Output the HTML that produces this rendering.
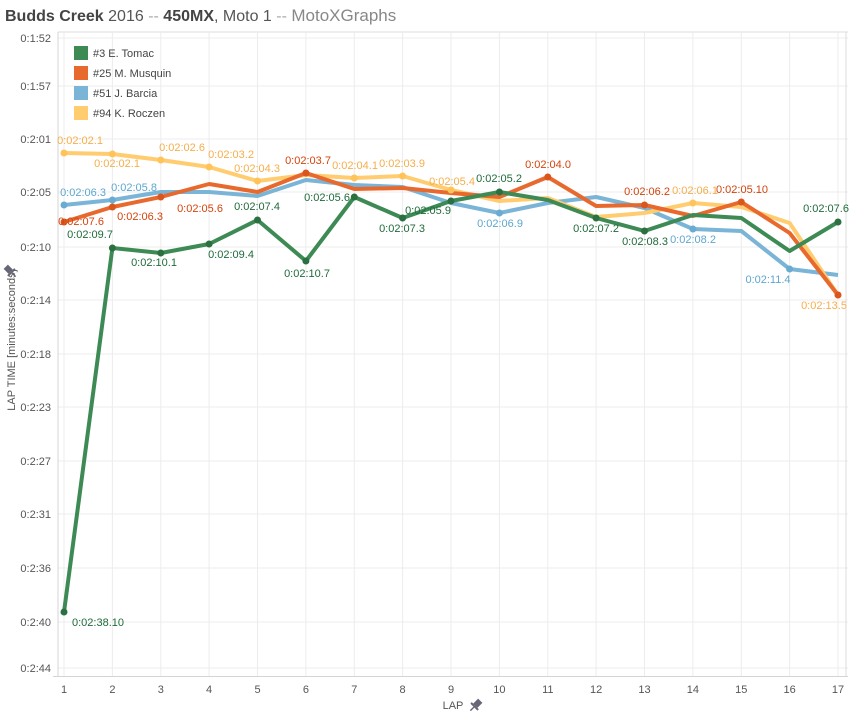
<!DOCTYPE html>
<html><head><meta charset="utf-8"><style>
body{margin:0;background:#fff;}
svg{display:block;font-family:"Liberation Sans",Arial,sans-serif;}
.g{stroke:#ececec;stroke-width:1}
.yl{font-size:11px;fill:#555;text-anchor:end}
.xl{font-size:11px;fill:#555;text-anchor:middle}
.lb{font-size:11px;text-anchor:middle}
</style></head><body>
<svg width="855" height="711" viewBox="0 0 855 711">
<text x="5" y="21" font-size="16" fill="#555"><tspan font-weight="bold" fill="#444">Budds Creek</tspan> 2016 <tspan fill="#aaa">--</tspan> <tspan font-weight="bold" fill="#444">450MX</tspan>, Moto 1 <tspan fill="#aaa">--</tspan> <tspan fill="#888" font-size="17">MotoXGraphs</tspan></text>
<line x1="58" y1="32" x2="848" y2="32" stroke="#ddd"/>
<g class="g">
<line x1="58" y1="38" x2="848" y2="38"/><line x1="58" y1="86" x2="848" y2="86"/><line x1="58" y1="139" x2="848" y2="139"/><line x1="58" y1="192" x2="848" y2="192"/><line x1="58" y1="247" x2="848" y2="247"/><line x1="58" y1="300" x2="848" y2="300"/><line x1="58" y1="354" x2="848" y2="354"/><line x1="58" y1="407" x2="848" y2="407"/><line x1="58" y1="461" x2="848" y2="461"/><line x1="58" y1="514" x2="848" y2="514"/><line x1="58" y1="568" x2="848" y2="568"/><line x1="58" y1="622" x2="848" y2="622"/><line x1="58" y1="668" x2="848" y2="668"/>
<line x1="64" y1="32" x2="64" y2="676"/><line x1="112.4" y1="32" x2="112.4" y2="676"/><line x1="160.8" y1="32" x2="160.8" y2="676"/><line x1="209.1" y1="32" x2="209.1" y2="676"/><line x1="257.5" y1="32" x2="257.5" y2="676"/><line x1="305.9" y1="32" x2="305.9" y2="676"/><line x1="354.3" y1="32" x2="354.3" y2="676"/><line x1="402.6" y1="32" x2="402.6" y2="676"/><line x1="451" y1="32" x2="451" y2="676"/><line x1="499.4" y1="32" x2="499.4" y2="676"/><line x1="547.8" y1="32" x2="547.8" y2="676"/><line x1="596.1" y1="32" x2="596.1" y2="676"/><line x1="644.5" y1="32" x2="644.5" y2="676"/><line x1="692.9" y1="32" x2="692.9" y2="676"/><line x1="741.3" y1="32" x2="741.3" y2="676"/><line x1="789.6" y1="32" x2="789.6" y2="676"/><line x1="838" y1="32" x2="838" y2="676"/>
</g>
<line x1="58" y1="32" x2="58" y2="676" stroke="#d4d4d4"/>
<line x1="53" y1="676.5" x2="848" y2="676.5" stroke="#d4d4d4"/>
<line x1="846" y1="32" x2="846" y2="676" stroke="#ddd"/>
<g class="yl">
<text x="51" y="42">0:1:52</text><text x="51" y="90">0:1:57</text><text x="51" y="143">0:2:01</text><text x="51" y="196">0:2:05</text><text x="51" y="251">0:2:10</text><text x="51" y="304">0:2:14</text><text x="51" y="358">0:2:18</text><text x="51" y="411">0:2:23</text><text x="51" y="465">0:2:27</text><text x="51" y="518">0:2:31</text><text x="51" y="572">0:2:36</text><text x="51" y="626">0:2:40</text><text x="51" y="672">0:2:44</text>
</g>
<g class="xl">
<text x="64" y="693">1</text><text x="112.4" y="693">2</text><text x="160.8" y="693">3</text><text x="209.1" y="693">4</text><text x="257.5" y="693">5</text><text x="305.9" y="693">6</text><text x="354.3" y="693">7</text><text x="402.6" y="693">8</text><text x="451" y="693">9</text><text x="499.4" y="693">10</text><text x="547.8" y="693">11</text><text x="596.1" y="693">12</text><text x="644.5" y="693">13</text><text x="692.9" y="693">14</text><text x="741.3" y="693">15</text><text x="789.6" y="693">16</text><text x="838" y="693">17</text>
</g>
<text x="453" y="709" class="xl" font-size="11">LAP</text>
<g transform="translate(476,705) rotate(45)" fill="#667"><rect x="-3" y="-6" width="6" height="7"/><rect x="-5" y="1" width="10" height="2"/><rect x="-0.7" y="3" width="1.4" height="5"/></g>
<text transform="translate(15,340) rotate(-90)" font-size="11" fill="#555" text-anchor="middle">LAP TIME [minutes:seconds]</text>
<g transform="translate(10,271) rotate(-45)" fill="#667"><rect x="-3" y="-6" width="6" height="7"/><rect x="-5" y="1" width="10" height="2"/><rect x="-0.7" y="3" width="1.4" height="5"/></g>
<!-- legend -->
<rect x="74" y="46" width="14" height="14" fill="#3d8a55"/><text x="93" y="57" font-size="11" fill="#444">#3 E. Tomac</text>
<rect x="74" y="66" width="14" height="14" fill="#e8692e"/><text x="93" y="77" font-size="11" fill="#444">#25 M. Musquin</text>
<rect x="74" y="86" width="14" height="14" fill="#7ab4d6"/><text x="93" y="97" font-size="11" fill="#444">#51 J. Barcia</text>
<rect x="74" y="106" width="14" height="14" fill="#ffcc70"/><text x="93" y="117" font-size="11" fill="#444">#94 K. Roczen</text>
<g fill="none" stroke-width="4" stroke-linejoin="round">
<polyline stroke="#7ab4d6" points="64,205 112.4,200 160.8,192 209.1,192 257.5,196 305.9,180 354.3,185 402.6,187 451,203 499.4,213 547.8,203 596.1,197 644.5,208 692.9,229 741.3,231 789.6,269 838,275"/>
<polyline stroke="#ffcc70" points="64,153 112.4,154 160.8,160 209.1,167 257.5,181 305.9,175 354.3,178 402.6,176 451,190 499.4,201 547.8,198 596.1,217 644.5,213 692.9,203 741.3,207 789.6,223 838,295"/>
<polyline stroke="#e8692e" points="64,222 112.4,207 160.8,197 209.1,184 257.5,192 305.9,173 354.3,189 402.6,188 451,193 499.4,197 547.8,177 596.1,206 644.5,205 692.9,216 741.3,202 789.6,233 838,295"/>
<polyline stroke="#3d8a55" points="64,612 112.4,248 160.8,253 209.1,244 257.5,220 305.9,261 354.3,197 402.6,218 451,201 499.4,192 547.8,200 596.1,218 644.5,231 692.9,215 741.3,218 789.6,251 838,222"/>
</g>
<g fill="#6aabd2"><circle cx="64" cy="205" r="3.5"/><circle cx="112.4" cy="200" r="3.5"/><circle cx="499.4" cy="213" r="3.5"/><circle cx="692.9" cy="229" r="3.5"/><circle cx="789.6" cy="269" r="3.5"/></g>
<g fill="#ffc35a"><circle cx="64" cy="153" r="3.5"/><circle cx="112.4" cy="154" r="3.5"/><circle cx="160.8" cy="160" r="3.5"/><circle cx="209.1" cy="167" r="3.5"/><circle cx="257.5" cy="181" r="3.5"/><circle cx="354.3" cy="178" r="3.5"/><circle cx="402.6" cy="176" r="3.5"/><circle cx="451" cy="190" r="3.5"/><circle cx="692.9" cy="203" r="3.5"/><circle cx="838" cy="295" r="3.5"/></g>
<g fill="#d9571c"><circle cx="64" cy="222" r="3.5"/><circle cx="112.4" cy="207" r="3.5"/><circle cx="160.8" cy="197" r="3.5"/><circle cx="305.9" cy="173" r="3.5"/><circle cx="547.8" cy="177" r="3.5"/><circle cx="644.5" cy="205" r="3.5"/><circle cx="741.3" cy="202" r="3.5"/><circle cx="838" cy="295" r="3.5"/></g>
<g fill="#2a7040"><circle cx="64" cy="612" r="3.5"/><circle cx="112.4" cy="248" r="3.5"/><circle cx="160.8" cy="253" r="3.5"/><circle cx="209.1" cy="244" r="3.5"/><circle cx="257.5" cy="220" r="3.5"/><circle cx="305.9" cy="261" r="3.5"/><circle cx="354.3" cy="197" r="3.5"/><circle cx="402.6" cy="218" r="3.5"/><circle cx="451" cy="201" r="3.5"/><circle cx="499.4" cy="192" r="3.5"/><circle cx="596.1" cy="218" r="3.5"/><circle cx="644.5" cy="231" r="3.5"/><circle cx="838" cy="222" r="3.5"/></g>
<g class="lb" fill="#f5ae4a">
<text x="80" y="144">0:02:02.1</text><text x="117" y="167">0:02:02.1</text><text x="182" y="151">0:02:02.6</text><text x="231" y="158">0:02:03.2</text><text x="257" y="172">0:02:04.3</text><text x="355" y="169">0:02:04.1</text><text x="402" y="167">0:02:03.9</text><text x="452" y="185">0:02:05.4</text><text x="695" y="194">0:02:06.1</text><text x="824" y="309">0:02:13.5</text>
</g>
<g class="lb" fill="#5ea6d0">
<text x="83" y="196">0:02:06.3</text><text x="134" y="191">0:02:05.8</text><text x="500" y="227">0:02:06.9</text><text x="693" y="243">0:02:08.2</text><text x="768" y="283">0:02:11.4</text>
</g>
<g class="lb" fill="#d4430c">
<text x="81" y="225">0:02:07.6</text><text x="140" y="220">0:02:06.3</text><text x="200" y="212">0:02:05.6</text><text x="308" y="164">0:02:03.7</text><text x="548" y="168">0:02:04.0</text><text x="647" y="195">0:02:06.2</text><text x="742" y="193">0:02:05.10</text>
</g>
<g class="lb" fill="#1f6b3a">
<text x="90" y="238">0:02:09.7</text><text x="154" y="266">0:02:10.1</text><text x="231" y="258">0:02:09.4</text><text x="257" y="210">0:02:07.4</text><text x="307" y="277">0:02:10.7</text><text x="327" y="201">0:02:05.6</text><text x="402" y="232">0:02:07.3</text><text x="428" y="214">0:02:05.9</text><text x="499" y="182">0:02:05.2</text><text x="596" y="232">0:02:07.2</text><text x="645" y="245">0:02:08.3</text><text x="826" y="212">0:02:07.6</text><text x="98" y="626">0:02:38.10</text>
</g>
</svg>
</body></html>
